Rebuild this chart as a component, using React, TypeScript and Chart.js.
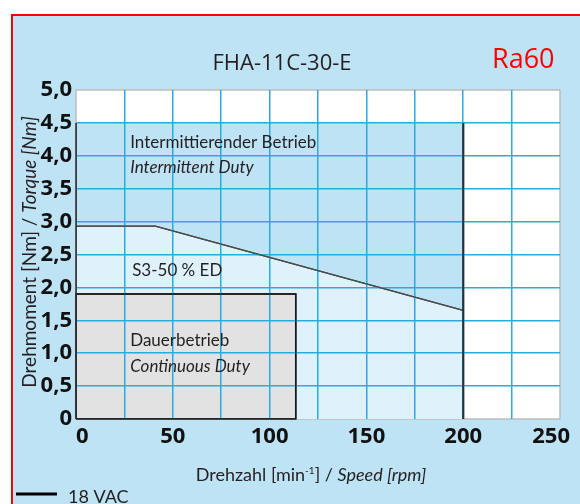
import React, { useEffect, useRef } from "react";
import { Chart, registerables } from "chart.js";

Chart.register(...registerables);

// ---------- data ----------
const speedTickLabels = [0, 50, 100, 150, 200, 250];
const speedMin = 0;
const speedMax = 250;
const speedGridStep = 25;
const torqueMin = 0;
const torqueMax = 5;
const torqueGridStep = 0.5;

// Intermittent duty envelope
const intermittentSpeed = [0, 200];
const intermittentTorque = [4.5, 4.5];

// S3-50 % ED curve
const s3Speed = [0, 41, 200];
const s3Torque = [2.93, 2.93, 1.65];

// Continuous duty block
const continuousSpeed = [0, 113.5];
const continuousTorque = [1.9, 1.9];

// Region edges (vertical boundaries of the intermittent area)
const edgeSpeed = [0, 200];
const edgeTorque = [0, 4.5];

const titleText = "FHA-11C-30-E";
const badgeText = "Ra60";
const legendLabel = "18 VAC";

// region labels (anchored in data units)
const labelSpeed = [28, 28, 29, 28, 28];
const labelTorque = [4.12, 3.74, 2.17, 1.11, 0.71];
const labelTexts = [
  "Intermittierender Betrieb",
  "Intermittent Duty",
  "S3-50 % ED",
  "Dauerbetrieb",
  "Continuous Duty",
];
const labelItalic = [false, true, false, false, true];

// ---------- styles ----------
const BG = "#bee3f5";
const S3_FILL = "#dff1fb";
const GRAY_FILL = "#e2e2e2";
const GRID = "#29abe2";
const TEXT = "#231f20";
const SANS = "Lato, 'Open Sans', sans-serif";
const TICK_FONT = "'Open Sans', 'Noto Sans', sans-serif";

const pts = (xs: number[], ys: number[]) => xs.map((x, i) => ({ x, y: ys[i] }));

type Run = { t: string; f: string; dy?: number };

function drawRuns(ctx: CanvasRenderingContext2D, runs: Run[], x: number, y: number, align: "left" | "center") {
  let total = 0;
  runs.forEach((r) => {
    ctx.font = r.f;
    total += ctx.measureText(r.t).width;
  });
  let cx = align === "center" ? x - total / 2 : x;
  ctx.textAlign = "left";
  runs.forEach((r) => {
    ctx.font = r.f;
    ctx.fillText(r.t, cx, y + (r.dy || 0));
    cx += ctx.measureText(r.t).width;
  });
}

const decorPlugin = {
  id: "decor",
  beforeDraw(chart: any) {
    const { ctx, chartArea: a, width, height } = chart;
    ctx.save();
    ctx.fillStyle = "#ffffff";
    ctx.fillRect(0, 0, width, height);
    ctx.fillStyle = BG;
    ctx.fillRect(12, 15, width, height);
    ctx.strokeStyle = "#ff0000";
    ctx.lineWidth = 2;
    ctx.strokeRect(12, 15, width + 40, height + 40);
    ctx.fillStyle = "#ffffff";
    ctx.fillRect(a.left, a.top, a.right - a.left, a.bottom - a.top);
    ctx.strokeStyle = "#bdbdbd";
    ctx.lineWidth = 1.5;
    ctx.strokeRect(a.left, a.top, a.right - a.left, a.bottom - a.top);
    ctx.restore();
  },
  afterDraw(chart: any) {
    const { ctx, chartArea: a } = chart;
    const xs = chart.scales.x;
    const ys = chart.scales.y;
    ctx.save();
    // outlines on top of the grid
    chart.data.datasets.forEach((ds: any, i: number) => {
      if (ds.outline) {
        const meta = chart.getDatasetMeta(i);
        meta.dataset.draw(ctx, a);
      }
    });

    // x tick labels
    ctx.fillStyle = "#111111";
    ctx.font = `bold 22px ${TICK_FONT}`;
    ctx.textBaseline = "alphabetic";
    const last = speedTickLabels.length - 1;
    speedTickLabels.forEach((v, i) => {
      const px = xs.getPixelForValue(v);
      if (i === 0) {
        ctx.textAlign = "left";
        ctx.fillText(String(v), px, a.bottom + 24);
      } else if (i === last) {
        ctx.textAlign = "right";
        ctx.fillText(String(v), px + 10, a.bottom + 24);
      } else {
        ctx.textAlign = "center";
        ctx.fillText(String(v), px, a.bottom + 24);
      }
    });

    // region labels
    ctx.fillStyle = TEXT;
    labelTexts.forEach((t, i) => {
      ctx.font = `${labelItalic[i] ? "italic " : ""}17px ${SANS}`;
      ctx.textAlign = "left";
      ctx.fillText(t, xs.getPixelForValue(labelSpeed[i]), ys.getPixelForValue(labelTorque[i]));
    });

    // title + badge
    ctx.font = `22px ${TICK_FONT}`;
    ctx.textAlign = "center";
    ctx.fillStyle = TEXT;
    ctx.fillText(titleText, 282, 70);
    ctx.font = `27px ${TICK_FONT}`;
    ctx.textAlign = "left";
    ctx.fillStyle = "#ff0000";
    ctx.fillText(badgeText, 492, 68);

    // x axis title
    ctx.fillStyle = TEXT;
    drawRuns(
      ctx,
      [
        { t: "Drehzahl [min", f: `18px ${SANS}` },
        { t: "-1", f: `10px ${SANS}`, dy: -7 },
        { t: "] / ", f: `18px ${SANS}` },
        { t: "Speed [rpm]", f: `italic 18px ${SANS}` },
      ],
      311,
      481,
      "center"
    );

    // y axis title
    ctx.save();
    ctx.translate(36, 252);
    ctx.rotate(-Math.PI / 2);
    drawRuns(
      ctx,
      [
        { t: "Drehmoment [Nm] / ", f: `19px ${SANS}` },
        { t: "Torque [Nm]", f: `italic 19px ${SANS}` },
      ],
      0,
      0,
      "center"
    );
    ctx.restore();

    // legend
    ctx.strokeStyle = "#000000";
    ctx.lineWidth = 3;
    ctx.beginPath();
    ctx.moveTo(16, 494);
    ctx.lineTo(57, 494);
    ctx.stroke();
    ctx.fillStyle = TEXT;
    ctx.font = `18px ${SANS}`;
    ctx.textAlign = "left";
    ctx.fillText(legendLabel, 68, 503);
    ctx.restore();
  },
};

export default function App() {
  const canvasRef = useRef<HTMLCanvasElement | null>(null);

  useEffect(() => {
    if (!canvasRef.current) return;
    const gridColor = (edgeA: number, edgeB: number) => (c: any) =>
      c.tick && (c.tick.value === edgeA || c.tick.value === edgeB) ? "rgba(0,0,0,0)" : GRID;

    const [c0, c1] = continuousSpeed;
    const cTop = continuousTorque[0];
    const continuousOutline = [
      { x: c0, y: 0 },
      { x: c0, y: cTop },
      { x: c1, y: continuousTorque[1] },
      { x: c1, y: 0 },
      { x: c0, y: 0 },
    ];

    const chart = new Chart(canvasRef.current, {
      type: "line",
      data: {
        datasets: [
          {
            label: "Continuous outline",
            data: continuousOutline,
            fill: false,
            borderColor: "#1a1a1a",
            borderWidth: 1.5,
            pointRadius: 0,
            tension: 0,
            order: 0,
            outline: true,
          } as any,
          {
            label: "Continuous",
            data: pts(continuousSpeed, continuousTorque),
            fill: "origin",
            backgroundColor: GRAY_FILL,
            borderColor: "rgba(0,0,0,0)",
            borderWidth: 0,
            pointRadius: 0,
            tension: 0,
            order: 1,
          } as any,
          {
            label: "S3-50 % ED",
            data: pts(s3Speed, s3Torque),
            fill: "origin",
            backgroundColor: S3_FILL,
            borderColor: "#4a4a4a",
            borderWidth: 1.3,
            pointRadius: 0,
            tension: 0,
            order: 2,
            outline: true,
          } as any,
          {
            label: "Intermittent",
            data: pts(intermittentSpeed, intermittentTorque),
            fill: "origin",
            backgroundColor: BG,
            borderColor: "rgba(0,0,0,0)",
            borderWidth: 0,
            pointRadius: 0,
            tension: 0,
            order: 3,
          } as any,
          {
            label: "edge-left",
            data: pts([edgeSpeed[0], edgeSpeed[0]], edgeTorque),
            fill: false,
            borderColor: "#333333",
            borderWidth: 1.5,
            pointRadius: 0,
            order: 0,
            outline: true,
          } as any,
          {
            label: "edge-right",
            data: pts([edgeSpeed[1], edgeSpeed[1]], edgeTorque),
            fill: false,
            borderColor: "#22343c",
            borderWidth: 2,
            pointRadius: 0,
            order: 0,
            outline: true,
          } as any,
        ],
      },
      options: {
        animation: false,
        responsive: true,
        maintainAspectRatio: false,
        layout: { padding: { left: 0, top: 90, right: 20, bottom: 0 } },
        plugins: { legend: { display: false }, tooltip: { enabled: false }, title: { display: false } },
        scales: {
          x: {
            type: "linear",
            min: speedMin,
            max: speedMax,
            border: { display: false },
            grid: { color: gridColor(speedMin, speedMax), lineWidth: 1.5, drawTicks: false, z: 1 },
            ticks: { stepSize: speedGridStep, display: false },
            afterFit: (s: any) => {
              s.height = 85;
            },
          },
          y: {
            type: "linear",
            min: torqueMin,
            max: torqueMax,
            border: { display: false },
            grid: { color: gridColor(torqueMin, torqueMax), lineWidth: 1.5, drawTicks: false, z: 1 },
            ticks: {
              stepSize: torqueGridStep,
              padding: 4,
              color: "#111111",
              font: { family: TICK_FONT, size: 22, weight: "bold" },
              callback: (v: any) => (Number(v) === 0 ? "0" : Number(v).toFixed(1).replace(".", ",")),
            },
            afterFit: (s: any) => {
              s.width = 76;
            },
          },
        },
      } as any,
      plugins: [decorPlugin],
    });
    return () => chart.destroy();
  }, []);

  return (
    <div style={{ position: "absolute", left: 0, top: 0, width: 580, height: 504 }}>
      <canvas ref={canvasRef} />
    </div>
  );
}
